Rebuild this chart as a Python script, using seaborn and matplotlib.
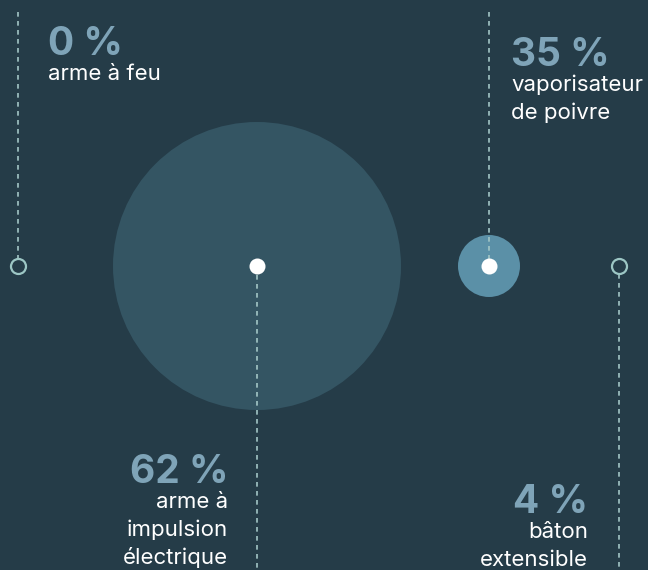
import pandas as pd
import matplotlib.pyplot as plt
import seaborn as sns

# data
categories = ["arme à feu", "arme à\nimpulsion\nélectrique", "vaporisateur\nde poivre", "bâton\nextensible"]
shares = [0, 62, 35, 4]

# layout (pixel coordinates) and styles
x_px = [18, 257, 489, 619]
y_mid = 266
bubble_r = [8, 144, 31, 8]          # px radius of each mark
label_dx = [30, -29, 22, -31]       # text anchor offset from the mark's line
pct_base = [55, 483, 66, 513]       # baseline of the big percent label
above = [True, False, True, False]  # label sits above or below the marks row

BG = "#253c48"
BUBBLE = {"arme à\nimpulsion\nélectrique": "#345563", "vaporisateur\nde poivre": "#5b90a7"}
RING = "#9cc6c4"
LINE = "#a3c6c6"
PCT = "#7fa4b8"
TXT = "#ffffff"

df = pd.DataFrame({"category": categories, "share": shares, "x": x_px, "r": bubble_r})
df["y"] = y_mid
df["s"] = (2 * df["r"] * 72 / 100) ** 2   # px radius -> marker area in pt^2
df["ring"] = df["share"] < 10

sns.set_theme(style="white")
plt.rcParams["font.family"] = ["Inter", "DejaVu Sans"]

fig = plt.figure(figsize=(6.48, 5.70), dpi=100, facecolor=BG)
ax = fig.add_axes([0, 0, 1, 1])
ax.set_facecolor(BG)
ax.set_xlim(0, 648)
ax.set_ylim(570, 0)
ax.axis("off")

filled = df[~df["ring"]]
rings = df[df["ring"]]

# bubbles
sns.scatterplot(data=filled, x="x", y="y", hue="category", palette=BUBBLE,
                s=filled["s"].tolist(), linewidth=0, legend=False, ax=ax, zorder=2)

# dashed leader lines
for i, row in df.iterrows():
    if above[i]:
        y0, y1 = 12, (y_mid - row["r"]) if row["ring"] else y_mid
    else:
        y0, y1 = (y_mid + row["r"]) if row["ring"] else y_mid, 570
    ax.plot([row["x"], row["x"]], [y0, y1], color=LINE, lw=1.2,
            linestyle=(0, (2.8, 2.6)), zorder=3)

# white centre dots on bubbles
sns.scatterplot(data=filled, x="x", y="y", color="white", s=(16 * 0.72) ** 2,
                linewidth=0, legend=False, ax=ax, zorder=4)

# hollow rings for the small shares
sns.scatterplot(data=rings, x="x", y="y", facecolor=BG, edgecolor=RING,
                s=(15 * 0.72) ** 2, linewidth=1.6, legend=False, ax=ax, zorder=4)

# labels
for i, row in df.iterrows():
    ha = "left" if label_dx[i] > 0 else "right"
    tx = row["x"] + label_dx[i]
    ax.text(tx, pct_base[i], f"{row['share']} %", color=PCT, fontsize=28,
            fontweight="bold", ha=ha, va="baseline", zorder=5)
    for j, line in enumerate(row["category"].split("\n")):
        ax.text(tx, pct_base[i] + 25 + 28 * j, line, color=TXT, fontsize=16,
                ha=ha, va="baseline", zorder=5)

fig.savefig("out.png", dpi=100, facecolor=BG)
